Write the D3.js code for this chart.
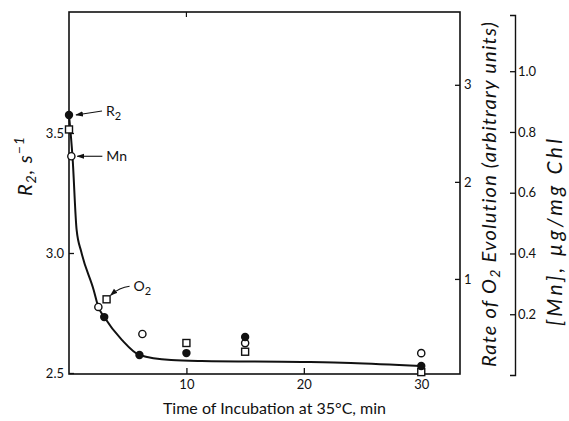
<!DOCTYPE html>
<html>
<head>
<meta charset="utf-8">
<script src="https://cdn.jsdelivr.net/npm/d3@7"></script>
<style>
  body { margin: 0; background: #fff; }
  text { font-family: Lato, "DejaVu Sans", sans-serif; fill: #111; }
</style>
</head>
<body>
<div id="chart"></div>
<script>
// time of incubation (min) for each series
var r2Time  = [0, 3.0, 6.0, 10, 15, 30];
var r2Vals  = [3.575, 2.733, 2.575, 2.583, 2.65, 2.529];      // R2, s^-1 (left axis)
var mnTime  = [0.2, 2.5, 6.25, 15, 30];
var mnVals  = [0.72, 0.224, 0.135, 0.105, 0.072];             // [Mn] ug/mg Chl (far right axis)
var o2Time  = [0, 3.2, 10, 15, 30];
var o2Vals  = [2.54, 0.79, 0.34, 0.25, 0.04];                 // O2 rate (right axis)

// hand drawn curve through the R2 points
var curveTime = [0, 0.3, 0.65, 1.05, 2.1, 2.5, 3.0, 4.5, 6.0, 8.7, 11.3, 19.8, 24, 30];
var curveVals = [3.575, 3.4, 3.096, 3.004, 2.846, 2.775, 2.733, 2.638, 2.575, 2.554, 2.55, 2.546, 2.542, 2.529];

var xTicks    = [10, 20, 30];
var r2Ticks   = [2.5, 3.0, 3.5];
var rateTicks = [1, 2, 3];
var mnTicks   = [0.2, 0.4, 0.6, 0.8, 1.0];

(function() {
  var W = 569, H = 421;
  var left = 69, right = 460, top = 12, bottom = 374, mnX = 515;

  var svg = d3.select("#chart").append("svg")
              .attr("width", W)
              .attr("height", H);

  var x = d3.scaleLinear().domain([0, 33.3]).range([left, right]);
  var yR2 = d3.scaleLinear().domain([2.5, 4.0]).range([373, 13]);
  var yRate = d3.scaleLinear().domain([0, 3.75]).range([376, 12]);
  var yMn = d3.scaleLinear().domain([0, 1.185]).range([375, 15]);

  // frame
  svg.append("rect")
     .attr("x", left).attr("y", top)
     .attr("width", right - left).attr("height", bottom - top)
     .attr("fill", "none").attr("stroke", "#111").attr("stroke-width", 1.6);

  // top tick
  svg.append("line")
     .attr("x1", x(10)).attr("x2", x(10))
     .attr("y1", top).attr("y2", top + 5)
     .attr("stroke", "#111").attr("stroke-width", 1.2);

  function styleAxis(g) {
    g.select(".domain").remove();
    g.selectAll(".tick line").attr("stroke", "#111").attr("stroke-width", 1.3);
    g.selectAll(".tick text").style("font-size", "13px").attr("fill", "#111");
  }

  svg.append("g")
     .attr("transform", "translate(0," + bottom + ")")
     .call(d3.axisBottom(x).tickValues(xTicks).tickSize(-6).tickPadding(6).tickFormat(d3.format("d")))
     .call(styleAxis);

  svg.append("g")
     .attr("transform", "translate(" + left + ",0)")
     .call(d3.axisLeft(yR2).tickValues(r2Ticks).tickSize(-5).tickPadding(5).tickFormat(d3.format(".1f")))
     .call(styleAxis);

  svg.append("g")
     .attr("transform", "translate(" + right + ",0)")
     .call(d3.axisRight(yRate).tickValues(rateTicks).tickSize(-5).tickPadding(4).tickFormat(d3.format("d")))
     .call(styleAxis);

  var mnAxis = svg.append("g")
     .attr("transform", "translate(" + mnX + ",0)")
     .call(d3.axisRight(yMn).tickValues(mnTicks).tickSizeInner(-5).tickSizeOuter(-5).tickPadding(3).tickFormat(d3.format(".1f")));
  mnAxis.select(".domain").attr("stroke", "#111").attr("stroke-width", 1.4);
  mnAxis.selectAll(".tick line").attr("stroke", "#111").attr("stroke-width", 1.3);
  mnAxis.selectAll(".tick text").style("font-size", "13px").attr("fill", "#111");

  // curve
  var line = d3.line()
               .x(function(d) { return x(d[0]); })
               .y(function(d) { return yR2(d[1]); })
               .curve(d3.curveMonotoneX);
  svg.append("path")
     .datum(d3.zip(curveTime, curveVals))
     .attr("d", line)
     .attr("fill", "none").attr("stroke", "#111").attr("stroke-width", 2);

  // points
  svg.selectAll("rect.o2")
     .data(d3.zip(o2Time, o2Vals))
     .enter().append("rect")
     .attr("class", "o2")
     .attr("x", function(d) { return x(d[0]) - 3.5; })
     .attr("y", function(d) { return yRate(d[1]) - 3.5; })
     .attr("width", 7).attr("height", 7)
     .attr("fill", "#fff").attr("stroke", "#111").attr("stroke-width", 1.4);

  svg.selectAll("circle.mn")
     .data(d3.zip(mnTime, mnVals))
     .enter().append("circle")
     .attr("class", "mn")
     .attr("cx", function(d) { return x(d[0]); })
     .attr("cy", function(d) { return yMn(d[1]); })
     .attr("r", 3.6)
     .attr("fill", "#fff").attr("stroke", "#111").attr("stroke-width", 1.4);

  svg.selectAll("circle.r2")
     .data(d3.zip(r2Time, r2Vals))
     .enter().append("circle")
     .attr("class", "r2")
     .attr("cx", function(d) { return x(d[0]); })
     .attr("cy", function(d) { return yR2(d[1]); })
     .attr("r", 4.2)
     .attr("fill", "#111");

  // arrows
  svg.append("defs").append("marker")
     .attr("id", "ah").attr("viewBox", "0 0 10 10")
     .attr("refX", 9).attr("refY", 5)
     .attr("markerWidth", 7).attr("markerHeight", 7)
     .attr("orient", "auto-start-reverse")
     .append("path").attr("d", "M0,1.5 L10,5 L0,8.5 Z").attr("fill", "#111");

  function note(px, py, sx, sy, label, sub, curved) {
    var d = curved
      ? "M" + sx + "," + sy + " Q" + (sx - 10) + "," + (sy + 1) + " " + px + "," + py
      : "M" + sx + "," + sy + " L" + px + "," + py;
    svg.append("path").attr("d", d)
       .attr("fill", "none").attr("stroke", "#111").attr("stroke-width", 1.1)
       .attr("marker-end", "url(#ah)");
    var t = svg.append("text")
       .attr("x", sx + 4).attr("y", sy + 5)
       .style("font-size", "14px")
       .text(label);
    if (sub) t.append("tspan").attr("dy", 4).style("font-size", "11px").text(sub);
  }

  note(x(r2Time[0]) + 7, yR2(r2Vals[0]), x(r2Time[0]) + 33, yR2(r2Vals[0]) - 4, "R", "2", false);
  note(x(mnTime[0]) + 6, yMn(mnVals[0]), x(mnTime[0]) + 31, yMn(mnVals[0]), "Mn", null, false);
  note(x(o2Time[1]) + 4, yRate(o2Vals[1]) - 4, x(o2Time[1]) + 23, yRate(o2Vals[1]) - 13, "O", "2", true);

  // axis titles
  svg.append("text")
     .attr("x", (left + right) / 2 + 10).attr("y", 414)
     .attr("text-anchor", "middle")
     .style("font-size", "16px")
     .text("Time of Incubation at 35°C, min");

  var t1 = svg.append("text")
     .attr("transform", "translate(32,166) rotate(-90)")
     .attr("text-anchor", "middle")
     .style("font-size", "20px").style("font-style", "italic")
     .style("letter-spacing", "1px");
  t1.append("tspan").text("R");
  t1.append("tspan").attr("dy", 4).style("font-size", "14px").text("2");
  t1.append("tspan").attr("dy", -4).text(", s");
  t1.append("tspan").attr("dy", -8).style("font-size", "14px").text("−1");

  var t2 = svg.append("text")
     .attr("transform", "translate(496,194) rotate(-90)")
     .attr("text-anchor", "middle")
     .style("font-size", "20px").style("font-style", "italic")
     .style("letter-spacing", "1.2px");
  t2.append("tspan").text("Rate of O");
  t2.append("tspan").attr("dy", 4).style("font-size", "14px").text("2");
  t2.append("tspan").attr("dy", -4).text(" Evolution (arbitrary units)");

  svg.append("text")
     .attr("transform", "translate(562,231) rotate(-90)")
     .attr("text-anchor", "middle")
     .style("font-size", "21px").style("font-style", "italic")
     .style("letter-spacing", "3.2px")
     .text("[Mn], µg/mg Chl");
})();
</script>
</body>
</html>
